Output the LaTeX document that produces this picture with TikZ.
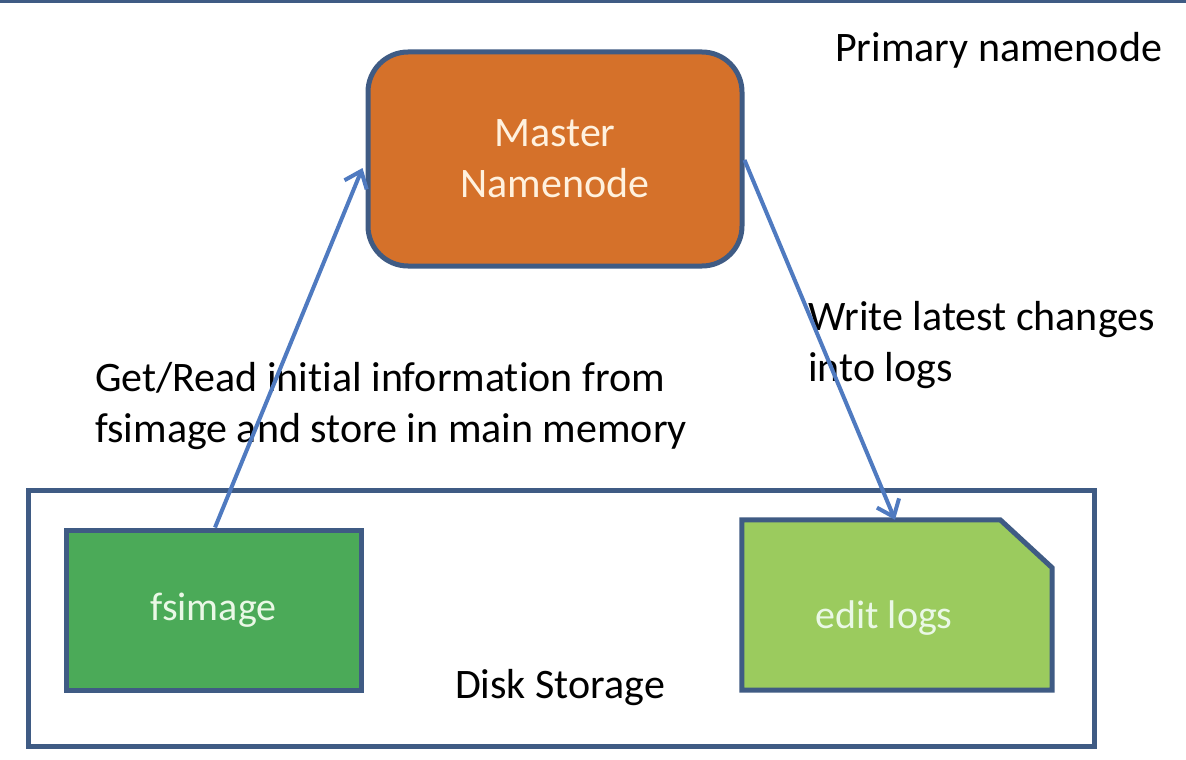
\documentclass[tikz,border=0pt]{standalone}
\usepackage{fontspec}
\setmainfont{Carlito}[RawFeature={-liga;-clig;-calt;-dlig}]
\usetikzlibrary{arrows.meta}
\definecolor{edge}{HTML}{3F5B84}
\definecolor{arr}{HTML}{4F7AC0}
\definecolor{orange}{HTML}{D5712A}
\definecolor{green1}{HTML}{4BAA58}
\definecolor{green2}{HTML}{9BCB5E}
\definecolor{txtO}{HTML}{FFF1DE}
\definecolor{txtG}{HTML}{EAF8E6}
\tikzset{
  box/.style={draw=edge, line width=5pt, inner sep=0pt},
  conn/.style={draw=arr, line width=4pt, -{Straight Barb[length=15pt,width=24pt,line width=4pt]}},
  lbl/.style={inner sep=0pt, align=left, font=\fontsize{42}{51}\selectfont, text=black},
}
\begin{document}
\begin{tikzpicture}[x=1pt,y=-1pt]
\useasboundingbox (0,0) rectangle (1186,760);
\fill[white] (0,0) rectangle (1186,760);
\coordinate (tl) at (0,1.5);
\coordinate (tr) at (1186,1.5);
\draw[edge, line width=3pt] (tl) -- (tr);

\node[box, fill=orange, rounded corners=40pt, minimum width=374pt, minimum height=214pt,
      text=txtO, align=center, font=\fontsize{42}{51}\selectfont] (master) at (555,159) {Master\\Namenode};

\node[lbl, anchor=west] (primary) at (835,50) {Primary namenode};

\node[box, minimum width=1066pt, minimum height=256pt] (disk) at (561,618) {};
\node[lbl, anchor=center] (disklbl) at (560,688) {Disk Storage};

\node[box, fill=green1, minimum width=295pt, minimum height=160pt,
      text=txtG, font=\fontsize{40}{48}\selectfont] (fsimage) at (213.5,610) {fsimage};

\node[inner sep=0pt, minimum width=310pt, minimum height=170pt] (editlogs) at (897,605) {};
\draw[edge, line width=5pt, fill=green2, line join=miter]
  (editlogs.north west) -- ([xshift=-52pt]editlogs.north east) -- ([yshift=-48pt]editlogs.north east)
  -- (editlogs.south east) -- (editlogs.south west) -- cycle;
\node[text=txtG, inner sep=0pt, font=\fontsize{40}{48}\selectfont] (editlbl) at (884,618) {edit logs};

\node[lbl, anchor=west] (getlbl) at (95,406) {Get/Read initial information from\\fsimage and store in main memory};
\node[lbl, anchor=west] (writelbl) at (808,345) {Write latest changes\\into logs};

\draw[conn] ([xshift=1.5pt]fsimage.north) -- ([xshift=-3pt,yshift=-9pt]master.west);
\draw[conn] ([yshift=-1pt]master.east) -- ([xshift=-2pt]editlogs.north);
\end{tikzpicture}
\end{document}
